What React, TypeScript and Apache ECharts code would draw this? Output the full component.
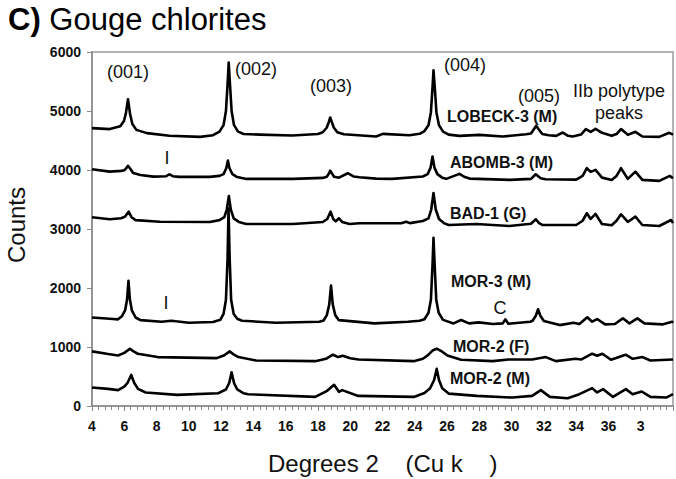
import React, { useEffect, useRef } from "react";
import * as echarts from "echarts";

// Tick values
const xTicks = [4, 6, 8, 10, 12, 14, 16, 18, 20, 22, 24, 26, 28, 30, 32, 34, 36, 38, 40];
const yTicks = [0, 1000, 2000, 3000, 4000, 5000, 6000];

// Sample names
const sampleNames = ["LOBECK-3 (M)", "ABOMB-3 (M)", "BAD-1 (G)", "MOR-3 (M)", "MOR-2 (F)", "MOR-2 (M)"];

// [degrees 2theta, counts]
const lobeck3M: [number, number][] = [
  [4.0, 4710], [5.1, 4693], [5.75, 4740], [5.98, 4830], [6.1, 4960], [6.23, 5200], [6.36, 4950], [6.5, 4780],
  [6.75, 4680], [7.4, 4625], [8.8, 4580], [10.7, 4562], [11.5, 4590], [11.9, 4650], [12.15, 4760], [12.3, 5000],
  [12.4, 5450], [12.47, 5820], [12.55, 5450], [12.65, 5000], [12.8, 4760], [13.05, 4650], [13.4, 4610], [14.4, 4600],
  [16.4, 4584], [18.0, 4610], [18.3, 4640], [18.55, 4720], [18.68, 4820], [18.76, 4890], [18.85, 4820], [18.98, 4720],
  [19.2, 4640], [19.6, 4605], [21.6, 4567], [22.02, 4613], [23.67, 4590], [24.3, 4613], [24.6, 4660], [24.85, 4760],
  [25.0, 4980], [25.1, 5400], [25.16, 5690], [25.24, 5400], [25.34, 4980], [25.5, 4760], [25.75, 4650], [26.1, 4600],
  [26.77, 4579], [28.0, 4596], [29.45, 4567], [30.9, 4605], [31.2, 4620], [31.4, 4700], [31.52, 4749], [31.65, 4700],
  [31.9, 4610], [32.3, 4590], [32.76, 4579], [33.17, 4635], [33.5, 4580], [33.78, 4567], [34.3, 4600], [34.6, 4693],
  [34.9, 4647], [35.2, 4698], [35.6, 4630], [36.2, 4579], [36.5, 4610], [36.78, 4693], [37.2, 4596], [37.67, 4647],
  [38.1, 4567], [39.15, 4562], [39.77, 4630], [40.0, 4600],
];

const abomb3M: [number, number][] = [
  [4.0, 4013], [5.1, 3973], [5.8, 3985], [6.0, 3995], [6.15, 4040], [6.23, 4070], [6.35, 4030], [6.55, 3950],
  [7.0, 3915], [7.8, 3888], [8.6, 3895], [8.8, 3928], [9.0, 3895], [9.4, 3883], [11.3, 3883], [11.9, 3900],
  [12.15, 3930], [12.32, 4030], [12.42, 4160], [12.52, 4030], [12.7, 3930], [13.0, 3880], [13.56, 3849], [16.45, 3849],
  [18.3, 3866], [18.55, 3885], [18.7, 3950], [18.76, 3990], [18.85, 3950], [19.0, 3885], [19.3, 3870], [19.85, 3945],
  [20.2, 3890], [20.58, 3877], [21.6, 3854], [22.6, 3849], [24.5, 3890], [24.8, 3930], [24.98, 4040], [25.1, 4228],
  [25.22, 4040], [25.4, 3930], [25.7, 3870], [25.95, 3850], [26.77, 3934], [27.1, 3880], [27.4, 3854], [29.9, 3832],
  [31.2, 3850], [31.5, 3928], [31.8, 3860], [32.1, 3843], [34.0, 3837], [34.4, 3900], [34.66, 4030], [34.9, 3968],
  [35.2, 4002], [35.6, 3871], [36.2, 3832], [36.5, 3900], [36.78, 4030], [37.2, 3849], [37.67, 3973], [38.1, 3832],
  [39.15, 3815], [39.8, 3900], [40.0, 3860],
];

const bad1G: [number, number][] = [
  [4.0, 3199], [5.1, 3165], [5.8, 3182], [6.05, 3210], [6.27, 3294], [6.45, 3200], [6.7, 3150], [8.2, 3124],
  [11.3, 3119], [11.9, 3150], [12.2, 3200], [12.35, 3330], [12.48, 3560], [12.6, 3330], [12.78, 3180], [13.1, 3120],
  [13.56, 3085], [16.45, 3085], [18.3, 3119], [18.58, 3170], [18.78, 3294], [18.95, 3170], [19.1, 3130], [19.3, 3182],
  [19.5, 3120], [19.96, 3085], [20.58, 3097], [23.2, 3100], [23.47, 3124], [23.7, 3100], [24.5, 3136], [24.85, 3180],
  [25.02, 3330], [25.16, 3610], [25.3, 3330], [25.5, 3170], [25.8, 3100], [26.1, 3068], [27.8, 3085], [29.86, 3051],
  [31.2, 3090], [31.5, 3165], [31.7, 3100], [31.9, 3068], [34.0, 3068], [34.4, 3140], [34.66, 3267], [34.9, 3170],
  [35.2, 3255], [35.6, 3085], [36.2, 3063], [36.5, 3140], [36.78, 3250], [37.2, 3119], [37.67, 3209], [38.1, 3068],
  [39.15, 3051], [39.88, 3153], [40.0, 3100],
];

const mor3M: [number, number][] = [
  [4.0, 1500], [5.3, 1475], [5.62, 1469], [5.85, 1520], [6.05, 1620], [6.17, 1800], [6.26, 2120], [6.35, 1800],
  [6.47, 1620], [6.7, 1500], [7.0, 1455], [8.31, 1429], [8.92, 1446], [10.0, 1411], [11.5, 1425], [11.95, 1460],
  [12.15, 1560], [12.3, 1800], [12.4, 2500], [12.46, 3350], [12.53, 2500], [12.62, 1800], [12.78, 1560], [13.0, 1480],
  [13.3, 1445], [15.4, 1411], [18.08, 1429], [18.35, 1450], [18.55, 1540], [18.7, 1720], [18.81, 2040], [18.92, 1720],
  [19.07, 1540], [19.3, 1455], [21.5, 1400], [23.57, 1429], [24.3, 1445], [24.6, 1470], [24.85, 1580], [25.0, 1800],
  [25.1, 2400], [25.16, 2850], [25.23, 2400], [25.33, 1800], [25.48, 1580], [25.75, 1460], [26.4, 1400], [26.87, 1457],
  [27.36, 1400], [27.97, 1417], [28.83, 1389], [29.45, 1400], [29.61, 1469], [29.8, 1395], [31.15, 1429], [31.3, 1445],
  [31.5, 1530], [31.64, 1640], [31.78, 1530], [32.0, 1440], [32.98, 1371], [33.84, 1411], [34.2, 1389], [34.69, 1503],
  [34.99, 1429], [35.3, 1474], [35.79, 1383], [36.4, 1389], [36.89, 1486], [37.3, 1400], [37.79, 1486], [38.23, 1400],
  [39.33, 1383], [39.94, 1429], [40.0, 1410],
];

const mor2F: [number, number][] = [
  [4.0, 926], [5.0, 880], [5.62, 857], [6.0, 900], [6.35, 971], [6.6, 920], [6.84, 886], [8.06, 829],
  [11.73, 811], [12.2, 860], [12.53, 926], [12.8, 870], [13.07, 829], [14.17, 771], [17.83, 760], [18.5, 800],
  [18.93, 869], [19.25, 829], [19.54, 851], [20.0, 810], [20.52, 789], [23.94, 760], [24.5, 800], [24.8, 857],
  [25.1, 940], [25.36, 971], [25.7, 920], [26.02, 857], [26.87, 783], [28.83, 760], [29.8, 789], [31.27, 789],
  [32.12, 829], [32.74, 760], [33.96, 800], [34.33, 789], [34.99, 886], [35.3, 851], [35.62, 886], [36.16, 783],
  [37.06, 869], [37.5, 800], [38.11, 829], [38.6, 771], [40.0, 789],
];

const mor2M: [number, number][] = [
  [4.0, 314], [5.0, 290], [5.62, 269], [6.0, 330], [6.2, 390], [6.43, 526], [6.62, 390], [6.85, 290],
  [7.33, 229], [9.28, 189], [11.8, 215], [12.3, 280], [12.5, 390], [12.65, 571], [12.8, 390], [13.0, 280],
  [13.4, 215], [13.68, 200], [17.83, 154], [18.57, 257], [19.0, 360], [19.3, 240], [19.5, 269], [20.5, 171],
  [23.94, 154], [24.6, 220], [24.95, 300], [25.2, 440], [25.36, 629], [25.5, 440], [25.7, 300], [26.1, 210],
  [27.85, 171], [30.05, 143], [31.27, 171], [31.81, 269], [32.37, 154], [33.47, 131], [34.2, 200], [34.99, 303],
  [35.3, 229], [35.67, 286], [36.28, 154], [37.08, 286], [37.5, 200], [38.06, 246], [38.6, 154], [39.58, 143],
  [40.0, 200],
];

const traces = [lobeck3M, abomb3M, bad1G, mor3M, mor2F, mor2M];

const FONT = "'Liberation Sans', Arial, Helvetica, sans-serif";

export default function App() {
  const ref = useRef<HTMLDivElement>(null);

  useEffect(() => {
    if (!ref.current) return;
    const chart = echarts.init(ref.current, null, { renderer: "svg" });

    const peakLabel = (text: string, x: number, y: number, align = "center") => ({
      type: "text",
      x,
      y,
      style: { text, font: `18px ${FONT}`, fill: "#111", align, verticalAlign: "middle" },
    });
    const sampleLabel = (text: string, x: number, y: number) => ({
      type: "text",
      x,
      y,
      style: { text, font: `bold 16px ${FONT}`, fill: "#111", align: "left", verticalAlign: "middle" },
    });

    const sampleLabelPos = [
      [447, 116], [450, 162], [450, 213], [451, 281], [453, 346], [450, 378],
    ];

    chart.setOption({
      animation: false,
      grid: {
        left: 92,
        right: 2,
        top: 52,
        bottom: 73,
        show: true,
        borderColor: "#9a9a9a",
        borderWidth: 1.5,
      },
      xAxis: {
        type: "value",
        min: xTicks[0],
        max: xTicks[xTicks.length - 1],
        interval: 2,
        axisLine: { show: true, lineStyle: { color: "#8a8a8a", width: 1.5 } },
        axisTick: { show: true, length: 5, lineStyle: { color: "#8a8a8a" } },
        minorTick: { show: true, splitNumber: 5, length: 4, lineStyle: { color: "#8a8a8a" } },
        splitLine: { show: false },
        axisLabel: {
          color: "#111",
          fontWeight: "bold",
          fontSize: 14,
          fontFamily: FONT,
          margin: 13,
          formatter: (v: number) => (v === 38 ? "3" : v > 38 ? "" : String(v)),
        },
      },
      yAxis: {
        type: "value",
        min: yTicks[0],
        max: yTicks[yTicks.length - 1],
        interval: 1000,
        axisLine: { show: true, lineStyle: { color: "#8a8a8a", width: 1.5 } },
        axisTick: { show: true, length: 5, lineStyle: { color: "#8a8a8a" } },
        splitLine: { show: false },
        axisLabel: {
          color: "#111",
          fontWeight: "bold",
          fontSize: 14,
          fontFamily: FONT,
          margin: 11,
          formatter: (v: number) => String(v),
        },
      },
      series: traces.map((d, i) => ({
        name: sampleNames[i],
        type: "line",
        data: d,
        symbol: "none",
        lineStyle: { color: "#000", width: 2.6, join: "round" },
        z: 3,
      })),
      graphic: [
        {
          type: "text",
          x: 8,
          y: 19,
          style: {
            text: "{b|C)} Gouge chlorites",
            rich: {
              b: { font: `bold 31px ${FONT}`, fill: "#000" },
            },
            font: `31px ${FONT}`,
            fill: "#000",
            align: "left",
            verticalAlign: "middle",
          },
        },
        {
          type: "text",
          x: 16,
          y: 225,
          rotation: Math.PI / 2,
          style: { text: "Counts", font: `24px ${FONT}`, fill: "#111", align: "center", verticalAlign: "middle" },
        },
        {
          type: "text",
          x: 268,
          y: 463,
          style: { text: "Degrees 2    (Cu k    )", font: `24px ${FONT}`, fill: "#111", align: "left", verticalAlign: "middle" },
        },
        peakLabel("(001)", 128, 72),
        peakLabel("(002)", 256, 69),
        peakLabel("(003)", 331, 86),
        peakLabel("(004)", 465, 65),
        peakLabel("(005)", 539, 96),
        peakLabel("IIb polytype", 619, 91),
        peakLabel("peaks", 619, 113),
        peakLabel("I", 167, 158),
        peakLabel("I", 166, 303),
        peakLabel("C", 500, 308),
        ...sampleNames.map((n, i) => sampleLabel(n, sampleLabelPos[i][0], sampleLabelPos[i][1])),
      ],
    });

    return () => chart.dispose();
  }, []);

  return <div ref={ref} style={{ position: "absolute", left: 0, top: 0, width: 676, height: 479 }} />;
}
